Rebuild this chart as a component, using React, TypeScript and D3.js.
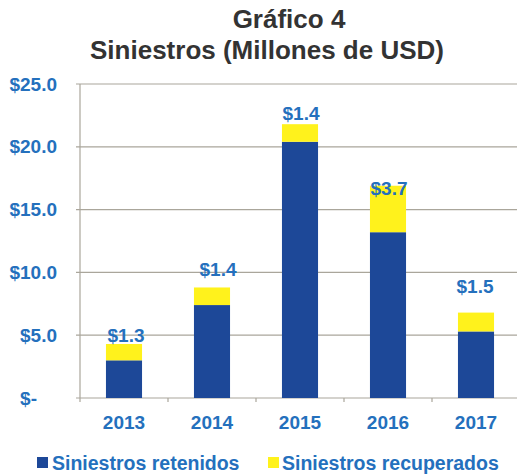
import React from 'react';
import * as d3 from 'd3';

const years = ['2013', '2014', '2015', '2016', '2017'];
const retenidos = [3.0, 7.4, 20.4, 13.2, 5.3];
const recuperados = [1.3, 1.4, 1.4, 3.7, 1.5];
const yTicks = [0, 5, 10, 15, 20, 25];
const seriesNames = ['Siniestros retenidos', 'Siniestros recuperados'];

const W = 517;
const H = 474;
const FONT = '"Liberation Sans", Arial, sans-serif';
const BLUE = '#1d4898';
const YELLOW = '#fff21c';
const TEXT_BLUE = '#2470bd';
const GRID = '#aaa69b';

// hand-dragged label offsets from the original (px)
const labelDy = [-2, -11, -4, 9, -20];
const labelDx = [2, 6, 1, 1, -1];

const App = () => {
  const x = d3.scaleBand<string>().domain(years).range([80, 520]).paddingInner(0.59).paddingOuter(0.295);
  const bandStep = x.step();
  const y = d3.scaleLinear().domain([0, 25]).range([398, 84]);

  const rows = years.map((yr, i) => ({ yr, ret: retenidos[i], rec: recuperados[i] }));
  const stack = d3.stack<any>().keys(['ret', 'rec'])(rows);

  const fmt = (v: number) => (v === 0 ? '$-' : `$${v.toFixed(1)}`);
  const boundary = (yr: string) => x(yr)! - (bandStep - x.bandwidth()) / 2 + bandStep;

  return (
    <svg width={W} height={H} style={{ position: 'absolute', left: 0, top: 0, background: '#fff' }} fontFamily={FONT}>
      <text x={289} y={28} textAnchor="middle" fontSize={26} fontWeight="bold" fill="#333">Gráfico 4</text>
      <text x={267} y={59} textAnchor="middle" fontSize={26} fontWeight="bold" fill="#333">Siniestros (Millones de USD)</text>

      {yTicks.map((t) => (
        <g key={t}>
          <line x1={76} x2={520} y1={y(t)} y2={y(t)} stroke={GRID} strokeWidth={1.2} />
          <text
            x={t === 0 ? 37 : 57}
            y={y(t)}
            dy="0.35em"
            textAnchor="end"
            fontSize={19}
            fontWeight="bold"
            fill={TEXT_BLUE}
          >
            {fmt(t)}
          </text>
        </g>
      ))}
      <line x1={80} x2={80} y1={y(25)} y2={y(0) + 4} stroke={GRID} strokeWidth={1.2} />
      {years.map((yr) => (
        <line key={yr} x1={boundary(yr)} x2={boundary(yr)} y1={y(0)} y2={y(0) + 4} stroke={GRID} strokeWidth={1.2} />
      ))}

      {stack.map((s, si) => (
        <g key={si} fill={si === 0 ? BLUE : YELLOW}>
          {s.map((d, i) => (
            <rect key={i} x={x(years[i])} width={x.bandwidth()} y={y(d[1])} height={y(d[0]) - y(d[1])} />
          ))}
        </g>
      ))}

      {stack[1].map((d, i) => (
        <text
          key={i}
          x={x(years[i])! + x.bandwidth() / 2 + labelDx[i]}
          y={y(d[1]) + labelDy[i]}
          textAnchor="middle"
          fontSize={19}
          fontWeight="bold"
          fill={TEXT_BLUE}
        >
          {fmt(recuperados[i])}
        </text>
      ))}

      {years.map((yr) => (
        <text key={yr} x={x(yr)! + x.bandwidth() / 2} y={429} textAnchor="middle" fontSize={19} fontWeight="bold" fill={TEXT_BLUE}>
          {yr}
        </text>
      ))}

      <rect x={37} y={457} width={11} height={11} fill={BLUE} />
      <text x={52} y={470} fontSize={19.5} fontWeight="bold" fill={TEXT_BLUE}>{seriesNames[0]}</text>
      <rect x={268} y={457} width={11} height={11} fill={YELLOW} />
      <text x={282} y={470} fontSize={19.5} fontWeight="bold" fill={TEXT_BLUE}>{seriesNames[1]}</text>
    </svg>
  );
};

export default App;
